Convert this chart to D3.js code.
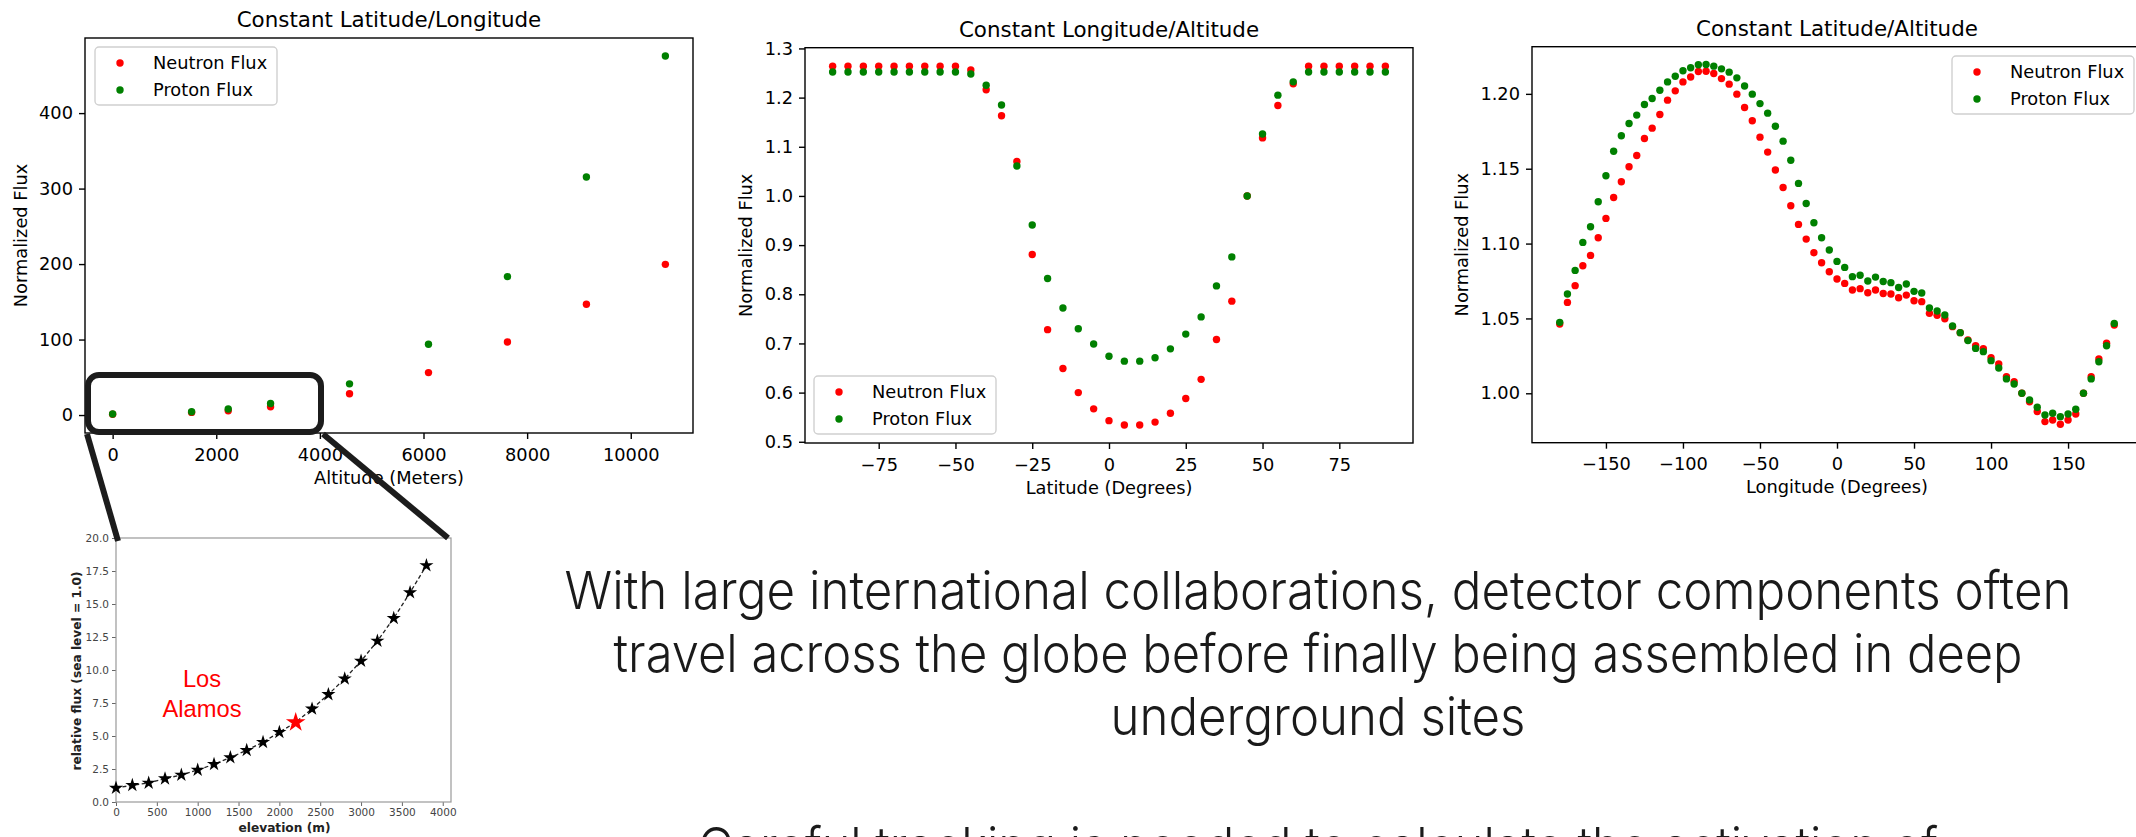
<!DOCTYPE html>
<html>
<head>
<meta charset="utf-8">
<script src="https://cdn.jsdelivr.net/npm/d3@7"></script>
<style>
  html, body { margin: 0; padding: 0; background: #fff; }
  svg { display: block; }
  .mpl text { font-family: "DejaVu Sans", sans-serif; }
</style>
</head>
<body>
<div id="slide"></div>
<script>
// ---- data ----

// panel 1: constant latitude/longitude, x = altitude in metres
const altitudes   = [0, 1524, 2231, 3048, 4572, 6096, 7620, 9144, 10668];
const altNeutron  = [1.0, 3.5, 5.7, 11.0, 28.1, 56.2, 96.7, 146.8, 199.6];
const altProton   = [1.3, 4.4, 7.9, 15.3, 41.3, 93.7, 183.4, 315.3, 475.7];

// panel 2: constant longitude/altitude, x = latitude
const latitudes   = [-90,-85,-80,-75,-70,-65,-60,-55,-50,-45,-40,-35,-30,-25,-20,-15,-10,-5,0,5,10,15,20,25,30,35,40,45,50,55,60,65,70,75,80,85,90];
const latNeutron  = [1.264,1.264,1.264,1.264,1.264,1.264,1.264,1.264,1.264,1.256,1.216,1.163,1.070,0.881,0.728,0.649,0.600,0.567,0.543,0.534,0.534,0.540,0.558,0.588,0.627,0.708,0.786,1.000,1.118,1.184,1.228,1.264,1.264,1.264,1.264,1.264,1.264];
const latProton   = [1.252,1.252,1.252,1.252,1.252,1.252,1.252,1.252,1.252,1.248,1.225,1.185,1.061,0.941,0.832,0.772,0.730,0.699,0.674,0.664,0.664,0.671,0.689,0.719,0.754,0.817,0.876,1.000,1.126,1.205,1.232,1.252,1.252,1.252,1.252,1.252,1.252];

// panel 3: constant latitude/altitude, x = longitude
const longitudes  = [-180,-175,-170,-165,-160,-155,-150,-145,-140,-135,-130,-125,-120,-115,-110,-105,-100,-95,-90,-85,-80,-75,-70,-65,-60,-55,-50,-45,-40,-35,-30,-25,-20,-15,-10,-5,0,5,10,15,20,25,30,35,40,45,50,55,60,65,70,75,80,85,90,95,100,105,110,115,120,125,130,135,140,145,150,155,160,165,170,175,180];
const lonNeutron  = [1.0463,1.0607,1.0719,1.0852,1.0921,1.1039,1.1168,1.1308,1.1413,1.1513,1.1588,1.1702,1.1771,1.1862,1.1958,1.2020,1.2080,1.2113,1.2149,1.2151,1.2136,1.2102,1.2065,1.1998,1.1909,1.1820,1.1711,1.1611,1.1491,1.1375,1.1253,1.1128,1.1030,1.0939,1.0872,1.0812,1.0763,1.0734,1.0690,1.0699,1.0672,1.0690,1.0667,1.0663,1.0638,1.0656,1.0618,1.0612,1.0534,1.0521,1.0498,1.0445,1.0405,1.0356,1.0318,1.0298,1.0238,1.0196,1.0111,1.0078,1.0000,0.9944,0.9878,0.9811,0.9822,0.9793,0.9822,0.9862,1.0000,1.0111,1.0229,1.0334,1.0456];
const lonProton   = [1.0474,1.0663,1.0821,1.1008,1.1112,1.1279,1.1453,1.1617,1.1720,1.1802,1.1858,1.1929,1.1969,1.2024,1.2080,1.2118,1.2154,1.2174,1.2194,1.2196,1.2185,1.2167,1.2145,1.2107,1.2053,1.1998,1.1935,1.1871,1.1784,1.1684,1.1557,1.1402,1.1268,1.1139,1.1039,1.0957,1.0881,1.0841,1.0779,1.0788,1.0750,1.0776,1.0747,1.0739,1.0707,1.0730,1.0681,1.0670,1.0570,1.0550,1.0523,1.0449,1.0405,1.0352,1.0300,1.0278,1.0218,1.0169,1.0096,1.0062,1.0000,0.9956,0.9907,0.9855,0.9867,0.9844,0.9862,0.9893,1.0000,1.0096,1.0211,1.0318,1.0467];

// inset: relative flux vs elevation
const elevations  = [0,200,400,600,800,1000,1200,1400,1600,1800,2000,2200,2400,2600,2800,3000,3200,3400,3600,3800];
const relFlux     = [1.06,1.27,1.44,1.77,2.05,2.43,2.86,3.37,3.92,4.53,5.29,6.03,7.06,8.15,9.34,10.68,12.2,13.92,15.87,17.92];
const losAlamosElev = 2200;

const seriesNames = ["Neutron Flux", "Proton Flux"];
const seriesColors = ["#ff0000", "#008000"];

const altTicksX = [0, 2000, 4000, 6000, 8000, 10000];
const altTicksY = [0, 100, 200, 300, 400];
const latTicksX = [-75, -50, -25, 0, 25, 50, 75];
const latTicksY = [0.5, 0.6, 0.7, 0.8, 0.9, 1.0, 1.1, 1.2, 1.3];
const lonTicksX = [-150, -100, -50, 0, 50, 100, 150];
const lonTicksY = [1.00, 1.05, 1.10, 1.15, 1.20];
const elevTicksX = [0,500,1000,1500,2000,2500,3000,3500,4000];
const elevTicksY = [0,2.5,5,7.5,10,12.5,15,17.5,20];

const slideLines = [
  "With large international collaborations, detector components often",
  "travel across the globe before finally being assembled in deep",
  "underground sites",
  "Careful tracking is needed to calculate the activation of"
];

// ---- drawing ----
const W = 2136, H = 837;
const svg = d3.select("#slide").append("svg")
    .attr("width", W).attr("height", H);

const FS = 17.8; // matplotlib 10pt at this scale

function panel(o) {
  const g = svg.append("g").attr("class", "mpl");
  const x = d3.scaleLinear().domain(o.xDomain).range([o.left, o.right]);
  const y = d3.scaleLinear().domain(o.yDomain).range([o.bottom, o.top]);

  // x axis
  const gx = g.append("g")
      .attr("transform", `translate(0,${o.bottom})`)
      .call(d3.axisBottom(x).tickValues(o.xTicks).tickFormat(o.xFmt).tickSize(6).tickPadding(9));
  // y axis
  const gy = g.append("g")
      .attr("transform", `translate(${o.left},0)`)
      .call(d3.axisLeft(y).tickValues(o.yTicks).tickFormat(o.yFmt).tickSize(6).tickPadding(6));
  [gx, gy].forEach(a => {
    a.select(".domain").remove();
    a.selectAll(".tick line").attr("stroke", "#000").attr("stroke-width", 1.4);
    a.selectAll("text").attr("font-size", FS).attr("fill", "#000").attr("font-family", "DejaVu Sans");
  });

  // dots, neutron first then proton on top
  o.series.forEach((vals, i) => {
    g.append("g").selectAll("circle")
      .data(vals.map((v, k) => [o.xs[k], v]))
      .join("circle")
      .attr("cx", d => x(d[0]))
      .attr("cy", d => y(d[1]))
      .attr("r", 3.7)
      .attr("fill", seriesColors[i]);
  });

  // frame
  g.append("rect")
    .attr("x", o.left).attr("y", o.top)
    .attr("width", o.right - o.left).attr("height", o.bottom - o.top)
    .attr("fill", "none").attr("stroke", "#000").attr("stroke-width", 1.4);

  // title and labels
  g.append("text")
    .attr("x", (o.left + o.right) / 2).attr("y", o.top - 11)
    .attr("text-anchor", "middle").attr("font-size", 21.4)
    .text(o.title);
  g.append("text")
    .attr("x", (o.left + o.right) / 2).attr("y", o.xLabelY)
    .attr("text-anchor", "middle").attr("font-size", FS)
    .text(o.xLabel);
  g.append("text")
    .attr("transform", `translate(${o.yLabelX},${(o.top + o.bottom) / 2}) rotate(-90)`)
    .attr("text-anchor", "middle").attr("dy", "0.35em").attr("font-size", FS)
    .text("Normalized Flux");

  // legend
  const lg = g.append("g").attr("transform", `translate(${o.legend[0]},${o.legend[1]})`);
  lg.append("rect")
    .attr("width", 182).attr("height", 58).attr("rx", 4)
    .attr("fill", "#fff").attr("fill-opacity", 0.85)
    .attr("stroke", "#d0d0d0").attr("stroke-width", 1.4);
  seriesNames.forEach((name, i) => {
    lg.append("circle").attr("cx", 25).attr("cy", 16 + i * 27).attr("r", 3.7).attr("fill", seriesColors[i]);
    lg.append("text").attr("x", 58).attr("y", 16 + i * 27).attr("dy", "0.36em")
      .attr("font-size", FS).text(name);
  });
  return {x, y};
}

panel({
  left: 85, right: 693, top: 38, bottom: 433,
  xDomain: [-533.4, 11201.4], yDomain: [-23.8, 499.5],
  xTicks: altTicksX, yTicks: altTicksY,
  xFmt: d3.format("d"), yFmt: d3.format("d"),
  xs: altitudes, series: [altNeutron, altProton],
  title: "Constant Latitude/Longitude", xLabel: "Altitude (Meters)",
  xLabelY: 484, yLabelX: 21, legend: [95, 47]
});

panel({
  left: 805, right: 1413, top: 47.7, bottom: 443,
  xDomain: [-99, 99], yDomain: [0.4975, 1.3015],
  xTicks: latTicksX, yTicks: latTicksY,
  xFmt: d3.format("d"), yFmt: d3.format(".1f"),
  xs: latitudes, series: [latNeutron, latProton],
  title: "Constant Longitude/Altitude", xLabel: "Latitude (Degrees)",
  xLabelY: 494, yLabelX: 746, legend: [814, 376]
});

panel({
  left: 1532, right: 2142, top: 46.7, bottom: 442.7,
  xDomain: [-198, 198], yDomain: [0.967, 1.2315],
  xTicks: lonTicksX, yTicks: lonTicksY,
  xFmt: d3.format("d"), yFmt: d3.format(".2f"),
  xs: longitudes, series: [lonNeutron, lonProton],
  title: "Constant Latitude/Altitude", xLabel: "Longitude (Degrees)",
  xLabelY: 493, yLabelX: 1462, legend: [1952, 56]
});

// ---- inset: relative flux vs elevation ----
const inset = {left: 116, right: 451, top: 538, bottom: 802};
const ix = d3.scaleLinear().domain([0, 4101]).range([inset.left, inset.right]);
const iy = d3.scaleLinear().domain([0, 20]).range([inset.bottom, inset.top]);
const ig = svg.append("g").attr("class", "mpl");

const igx = ig.append("g").attr("transform", `translate(0,${inset.bottom})`)
    .call(d3.axisBottom(ix).tickValues(elevTicksX).tickFormat(d3.format("d")).tickSize(4).tickPadding(3));
const igy = ig.append("g").attr("transform", `translate(${inset.left},0)`)
    .call(d3.axisLeft(iy).tickValues(elevTicksY).tickFormat(d3.format(".1f")).tickSize(4).tickPadding(3));
[igx, igy].forEach(a => {
  a.select(".domain").remove();
  a.selectAll(".tick line").attr("stroke", "#666").attr("stroke-width", 1);
  a.selectAll("text").attr("font-size", 10.5).attr("fill", "#444").attr("font-family", "DejaVu Sans");
});
ig.append("rect")
  .attr("x", inset.left).attr("y", inset.top)
  .attr("width", inset.right - inset.left).attr("height", inset.bottom - inset.top)
  .attr("fill", "none").attr("stroke", "#999").attr("stroke-width", 1.2);

const elevPts = elevations.map((e, i) => [e, relFlux[i]]);
ig.append("path")
  .datum(elevPts)
  .attr("d", d3.line().x(d => ix(d[0])).y(d => iy(d[1])))
  .attr("fill", "none").attr("stroke", "#222").attr("stroke-width", 1.3)
  .attr("stroke-dasharray", "4,2.5");
ig.append("g").selectAll("path")
  .data(elevPts)
  .join("path")
  .attr("transform", d => `translate(${ix(d[0])},${iy(d[1])})`)
  .attr("d", d => d3.symbol(d3.symbolStar, d[0] === losAlamosElev ? 120 : 62)())
  .attr("fill", d => d[0] === losAlamosElev ? "#ff0000" : "#000");

ig.append("text")
  .attr("x", (inset.left + inset.right) / 2 + 1).attr("y", 832)
  .attr("text-anchor", "middle").attr("font-size", 12.2).attr("font-weight", "bold").attr("fill", "#222")
  .text("elevation (m)");
ig.append("text")
  .attr("transform", `translate(77,${(inset.top + inset.bottom) / 2 + 1}) rotate(-90)`)
  .attr("text-anchor", "middle").attr("dy", "0.35em")
  .attr("font-size", 12.2).attr("font-weight", "bold").attr("fill", "#222")
  .text("relative flux (sea level = 1.0)");

const la = svg.append("text")
  .attr("x", 202).attr("text-anchor", "middle")
  .attr("font-family", "Liberation Sans, Arial, sans-serif").attr("font-size", 23.7).attr("fill", "#ff0000");
la.append("tspan").attr("x", 202).attr("y", 687).text("Los");
la.append("tspan").attr("x", 202).attr("y", 717).text("Alamos");

// ---- zoom callout: box around low-altitude points and connectors ----
const callout = svg.append("g").attr("stroke", "#1c1c1c").attr("stroke-width", 6).attr("fill", "none");
callout.append("rect").attr("x", 88).attr("y", 375).attr("width", 233).attr("height", 57).attr("rx", 11);
callout.append("line").attr("x1", 87).attr("y1", 434).attr("x2", 118).attr("y2", 541);
callout.append("line").attr("x1", 323).attr("y1", 434).attr("x2", 448).attr("y2", 538);

// ---- slide text ----
const lineWidths = [1507, 1409, 415, 1240];
const baselines = [609, 672, 735, 865];
svg.append("g").selectAll("text")
  .data(slideLines)
  .join("text")
  .attr("x", 1318)
  .attr("y", (d, i) => baselines[i])
  .attr("text-anchor", "middle")
  .attr("font-family", "Inter, 'Open Sans', sans-serif")
  .attr("font-weight", 300)
  .attr("font-size", 52)
  .attr("fill", "#1a1a1a")
  .attr("textLength", (d, i) => lineWidths[i])
  .attr("lengthAdjust", "spacingAndGlyphs")
  .text(d => d);
</script>
</body>
</html>
